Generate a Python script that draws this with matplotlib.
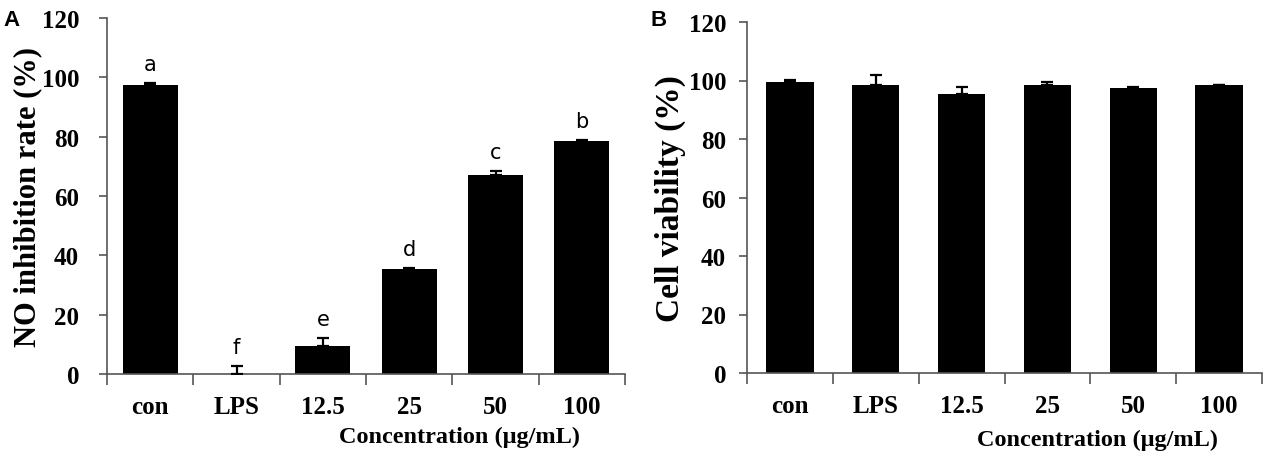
import matplotlib
matplotlib.use("Agg")
import matplotlib.pyplot as plt
import numpy as np

categories = ["con", "LPS", "12.5", "25", "50", "100"]
no_inhibition = [97.5, 0.0, 9.4, 35.4, 67.0, 78.6]
no_inhibition_err = [0.5, 2.6, 2.6, 0.3, 1.3, 0.3]
sig_letters = ["a", "f", "e", "d", "c", "b"]
viability = [99.5, 98.5, 95.5, 98.5, 97.4, 98.5]
viability_err = [0.7, 3.4, 2.4, 1.0, 0.5, 0.0]
yticks = [0, 20, 40, 60, 80, 100, 120]

serif = ["Liberation Serif", "DejaVu Serif"]
plt.rcParams["font.family"] = serif

fig = plt.figure(figsize=(12.86, 4.56), dpi=100)
axA = fig.add_axes([107/1286, 1-375/456, (625-107)/1286, (375-19)/456])
axB = fig.add_axes([747/1286, 1-374/456, (1262-747)/1286, (374-23)/456])

def style(ax, vals, errs, width, ylabel, ypad, xlab_y, ylab_size, ylab_pad):
    x = np.arange(len(categories))
    ax.bar(x, vals, width=width, color="black", zorder=2)
    lower = np.zeros(len(errs))
    ax.errorbar(x, vals, yerr=[lower, errs], fmt="none", ecolor="black",
                elinewidth=1.6, capsize=4.5, capthick=1.6, zorder=3)
    ax.set_xlim(-0.5, len(categories) - 0.5)
    ax.set_ylim(0, 120)
    ax.set_yticks(yticks)
    ax.set_yticklabels([str(t) for t in yticks], fontsize=18, fontweight="bold")
    ax.set_xticks(x)
    ax.set_xticklabels(categories, fontsize=18, fontweight="bold")
    ax.set_xticks(np.arange(-0.5, len(categories)), minor=True)
    ax.tick_params(axis="x", which="major", length=0, pad=15)
    ax.tick_params(axis="x", which="minor", length=8, width=1.2, color="#555555", direction="out")
    ax.tick_params(axis="y", length=6, width=1.2, color="#555555", direction="out", pad=ypad)
    for s in ["top", "right"]:
        ax.spines[s].set_visible(False)
    for s in ["left", "bottom"]:
        ax.spines[s].set_color("#555555")
        ax.spines[s].set_linewidth(1.2)
    ax.set_ylabel(ylabel, fontsize=ylab_size, fontweight="bold", labelpad=ylab_pad)
    ax.text(0.68, xlab_y, "Concentration (μg/mL)", transform=ax.transAxes,
            fontsize=17.5, fontweight="bold", ha="center", va="center")

style(axA, no_inhibition, no_inhibition_err, 0.64, "NO inhibition rate (%)", 14, -0.174, 22, 0)
style(axB, viability, viability_err, 0.55, "Cell viability (%)", 9, -0.188, 24, 2)

for i, (v, e, t) in enumerate(zip(no_inhibition, no_inhibition_err, sig_letters)):
    axA.text(i, v + e + 6.5, t, ha="center", va="center", fontsize=15,
             family=["DejaVu Sans"])

fig.text(3/1286, 1-20/456, "A", fontsize=16, fontweight="bold",
         family=["Liberation Sans"], va="center", ha="left")
fig.text(650/1286, 1-20/456, "B", fontsize=16, fontweight="bold",
         family=["Liberation Sans"], va="center", ha="left")

fig.savefig("out.png", dpi=100, facecolor="white")
